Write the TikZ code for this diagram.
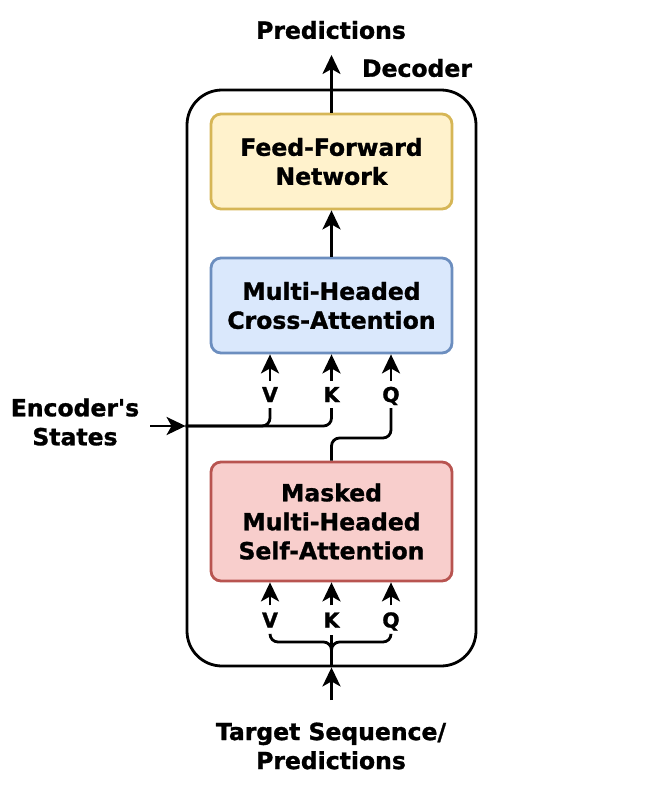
\documentclass[tikz,border=0pt]{standalone}
\usepackage{fontspec}
\newfontfamily\djv{DejaVu Sans}[BoldFeatures={FakeBold=1.2}]
\usetikzlibrary{arrows.meta}
\begin{document}
\begin{tikzpicture}[x=1pt,y=-1pt,
  lbl/.style={font=\djv\fontsize{23.5}{29}\selectfont\bfseries, align=center, inner sep=0pt},
  qkv/.style={font=\djv\fontsize{20.5}{22}\selectfont\bfseries, inner sep=0pt, text height=15pt, text depth=0pt},
  blk/.style={rounded corners=10pt, line width=2.8pt, minimum width=241pt, align=center, inner sep=0pt,
    font=\djv\fontsize{23.5}{29}\selectfont\bfseries},
  conn/.style={line width=2.8pt},
  arr/.style={line width=2.8pt, -{Stealth[length=19pt,width=18pt,inset=5pt]}}]
\definecolor{ffF}{HTML}{FFF2CC}\definecolor{ffD}{HTML}{D6B656}
\definecolor{caF}{HTML}{DAE8FC}\definecolor{caD}{HTML}{6C8EBF}
\definecolor{saF}{HTML}{F8CECC}\definecolor{saD}{HTML}{B85450}
\useasboundingbox (0,0) rectangle (669,796);
% decoder frame
\node[draw, rounded corners=35pt, line width=2.8pt, minimum width=289pt, minimum height=576pt, inner sep=0pt] (dec) at (331.5,378) {};
\node[lbl] (declbl) at (417,68) {Decoder};
% blocks
\node[blk, fill=ffF, draw=ffD, minimum height=95pt] (ff) at (331.5,161.5) {Feed-Forward\\Network};
\node[blk, fill=caF, draw=caD, minimum height=95pt] (cross) at (331.5,305.5) {Multi-Headed\\Cross-Attention};
\node[blk, fill=saF, draw=saD, minimum height=119pt] (mask) at (331.5,521.5) {Masked\\Multi-Headed\\Self-Attention};
% outer texts
\node[lbl] (pred) at (331,30) {Predictions};
\node[lbl] (enc) at (75,422) {Encoder's\\States};
\node[lbl] (tgt) at (331,746) {Target Sequence/\\Predictions};
\coordinate (predtip) at (331.5,55);
\coordinate (encin) at (150,426);
\coordinate (tgtout) at (331.5,700);
\coordinate (qmid) at (331.5,438);
% QKV labels
\node[qkv, minimum height=27pt] (Vc) at (270,394.5) {V};
\node[qkv, minimum height=27pt] (Kc) at (331.5,394.5) {K};
\node[qkv, minimum height=27pt] (Qc) at (391,394.5) {Q};
\node[qkv, minimum height=29pt] (Vs) at (270,620) {V};
\node[qkv, minimum height=29pt] (Ks) at (331.5,620) {K};
\node[qkv, minimum height=29pt] (Qs) at (391,620) {Q};
% connectors
\draw[arr] (ff.north) -- (predtip);
\draw[arr] (cross.north) -- (ff.south);
\draw[arr] (Vc.north) -- (Vc.north |- cross.south);
\draw[arr] (Kc.north) -- (Kc.north |- cross.south);
\draw[arr] (Qc.north) -- (Qc.north |- cross.south);
\draw[arr] (encin) -- (dec.west |- encin);
\draw[conn, rounded corners=8pt] (dec.west |- encin) -| (Kc.south);
\draw[conn, rounded corners=8pt] (dec.west |- encin) -| (Vc.south);
\draw[conn, rounded corners=8pt] (mask.north) -- (qmid) -| (Qc.south);
\draw[arr] (Vs.north) -- (Vs.north |- mask.south);
\draw[arr] (Ks.north) -- (Ks.north |- mask.south);
\draw[arr] (Qs.north) -- (Qs.north |- mask.south);
\draw[arr] (tgtout) -- (dec.south);
\draw[conn] (dec.south) -- (Ks.south);
\coordinate (brV) at (270,642);
\coordinate (brQ) at (391,642);
\coordinate (brC) at (331.5,642);
\coordinate (brD) at (331.5,656);
\draw[conn, rounded corners=8pt] (Vs.south) -- (brV) -- (brC) -- (brD);
\draw[conn, rounded corners=8pt] (Qs.south) -- (brQ) -- (brC) -- (brD);
\end{tikzpicture}
\end{document}
